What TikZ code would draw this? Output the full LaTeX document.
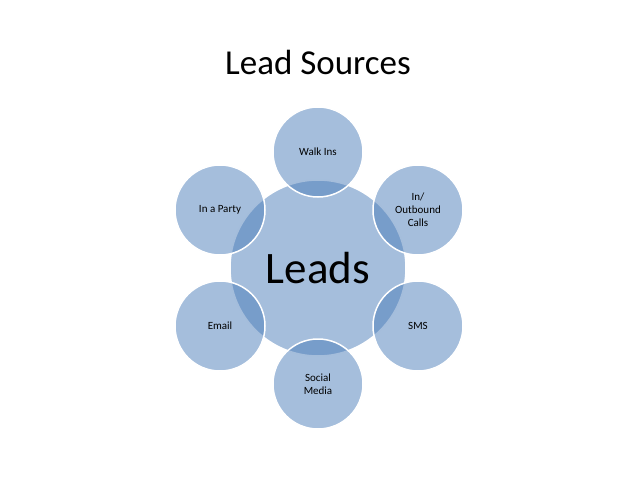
\documentclass[tikz,border=0pt]{standalone}
\usepackage{fontspec}
\setmainfont{Carlito}
\usepackage{tikz}
\definecolor{bubble}{RGB}{165,190,220}
\definecolor{bubbledeep}{RGB}{75,125,185}
\tikzset{
  hub/.style={circle, minimum size=176pt, fill=bubble, draw=white, line width=1.5pt, inner sep=0pt},
  source/.style={circle, minimum size=90pt, fill=bubbledeep, fill opacity=0.5, text opacity=1, draw=white, line width=1.5pt, align=center, inner sep=0pt, font=\fontsize{11}{13}\selectfont}
}
\begin{document}
\begin{tikzpicture}[x=1pt,y=-1pt]
	\useasboundingbox (0,0) rectangle (638,479);
	
	% title
	\node (title) at (318,62) {\fontsize{35}{42}\selectfont Lead Sources};
	% centre
	\node[hub] (leads) at (318,268) {\fontsize{45}{54}\selectfont Leads};
	% sources
	\node[source] (walk) at (318,152) {Walk Ins};
	\node[source] (calls) at (418,210) {In/\\Outbound\\Calls};
	\node[source] (sms) at (418,326) {SMS};
	\node[source] (social) at (318,384) {Social\\Media};
	\node[source] (email) at (220,326) {Email};
	\node[source] (party) at (220,210) {In a Party};
\end{tikzpicture}
\end{document}
